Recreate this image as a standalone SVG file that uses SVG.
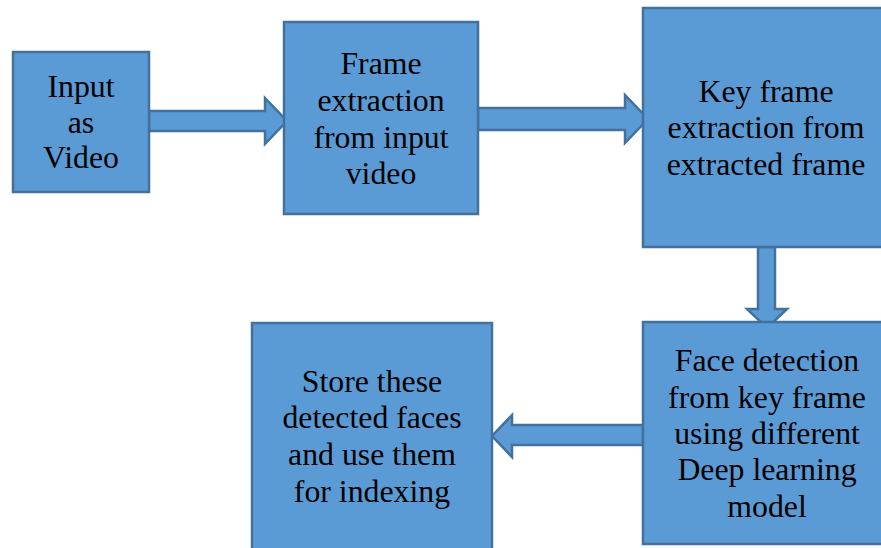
<svg xmlns="http://www.w3.org/2000/svg" width="881" height="548" viewBox="0 0 881 548">
  <style>
    .box { fill: #5B9BD5; stroke: #41719C; stroke-width: 2.5; }
    .arrow { fill: #5B9BD5; stroke: #41719C; stroke-width: 2.5; stroke-linejoin: miter; }
    .label { font-family: "Liberation Serif", "Times New Roman", serif; font-size: 31.8px; fill: #000; text-anchor: middle; }
  </style>
  <rect width="881" height="548" fill="#FFFFFF"/>

  <g id="connectors">
    <!-- input -> frame extraction -->
    <polygon class="arrow" points="149,111 265,111 265,98 287,121 265,144 265,131 149,131"/>
    <!-- frame extraction -> key frame extraction -->
    <polygon class="arrow" points="478,108 625,108 625,95 648,119 625,143 625,130 478,130"/>
    <!-- key frame extraction -> face detection -->
    <polygon class="arrow" points="758,247 775,247 775,309 787,309 767,328 747,309 758,309"/>
    <!-- face detection -> store -->
    <polygon class="arrow" points="643,425 512,425 512,415 492,436 512,457 512,445 643,445"/>
  </g>

  <g id="input-video">
    <rect class="box" x="13" y="52" width="136" height="140"/>
    <text class="label" x="81" y="97">Input</text>
    <text class="label" x="81" y="133">as</text>
    <text class="label" x="81" y="168">Video</text>
  </g>

  <g id="frame-extraction">
    <rect class="box" x="284" y="22" width="194" height="192"/>
    <text class="label" x="381" y="74">Frame</text>
    <text class="label" x="381" y="111">extraction</text>
    <text class="label" x="381" y="148">from input</text>
    <text class="label" x="381" y="184">video</text>
  </g>

  <g id="key-frame-extraction">
    <rect class="box" x="643" y="8" width="246" height="239"/>
    <text class="label" x="766" y="102">Key frame</text>
    <text class="label" x="766" y="138">extraction from</text>
    <text class="label" x="766" y="175">extracted frame</text>
  </g>

  <g id="face-detection">
    <rect class="box" x="643" y="322" width="246" height="222"/>
    <text class="label" x="767" y="371">Face detection</text>
    <text class="label" x="767" y="408">from key frame</text>
    <text class="label" x="767" y="444">using different</text>
    <text class="label" x="767" y="480">Deep learning</text>
    <text class="label" x="767" y="517">model</text>
  </g>

  <g id="store-faces">
    <rect class="box" x="252" y="323" width="240" height="230"/>
    <text class="label" x="372" y="392">Store these</text>
    <text class="label" x="372" y="428">detected faces</text>
    <text class="label" x="372" y="465">and use them</text>
    <text class="label" x="372" y="502">for indexing</text>
  </g>
</svg>
